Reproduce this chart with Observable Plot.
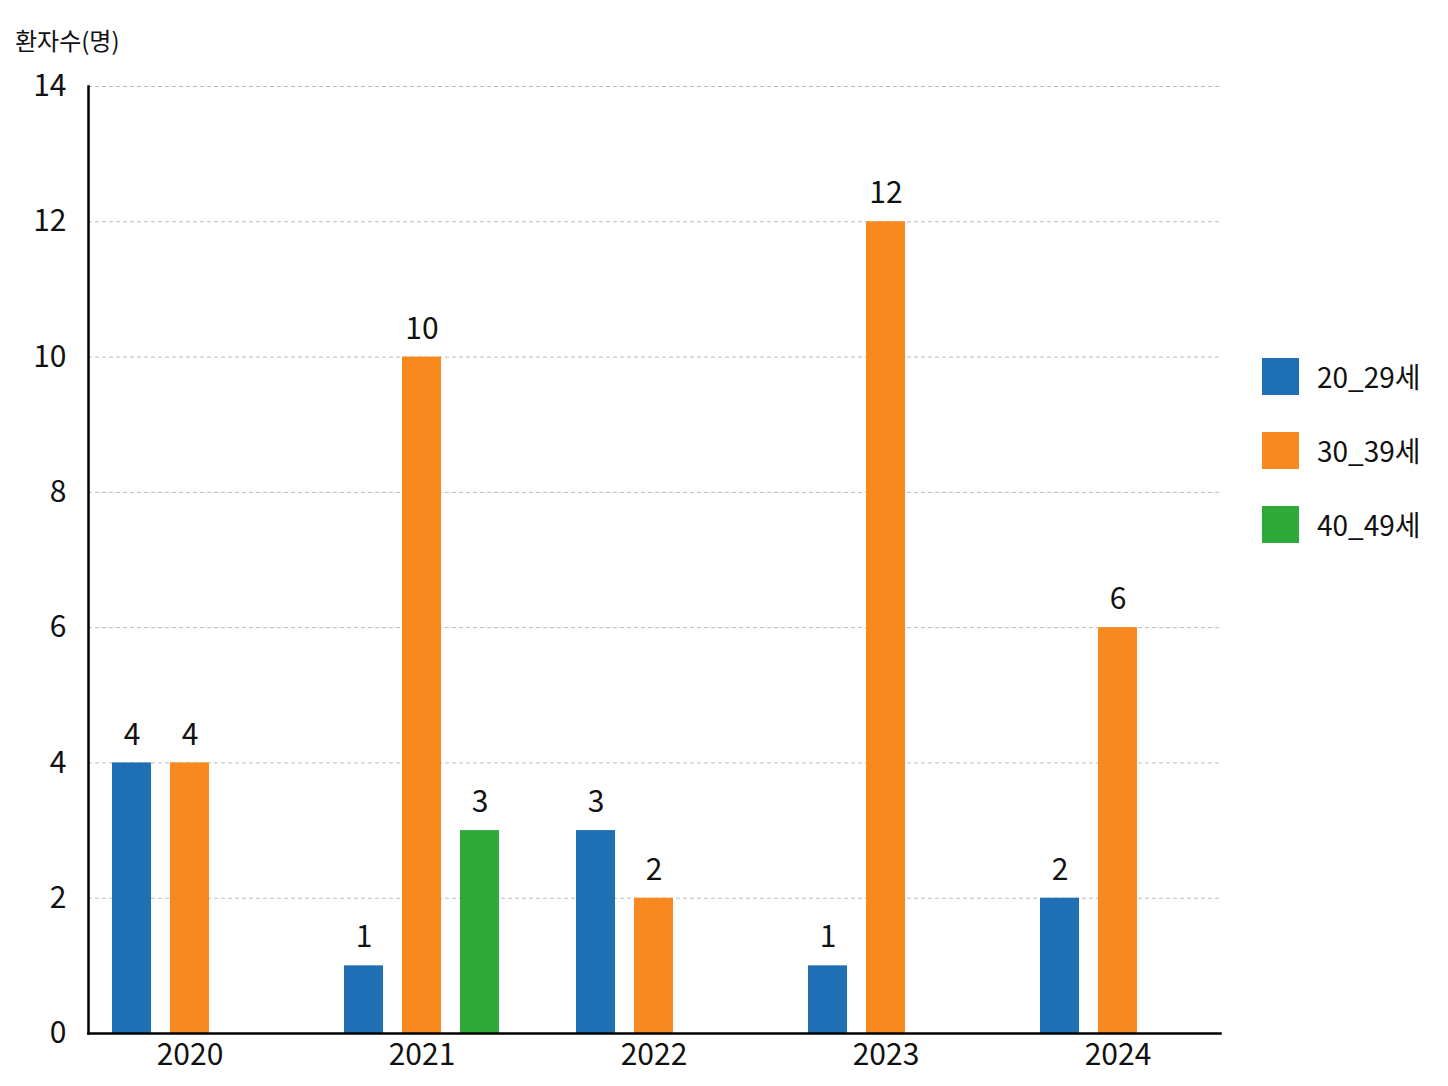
<!DOCTYPE html>
<html><head><meta charset="utf-8">
<script src="https://cdn.jsdelivr.net/npm/d3@7"></script>
<script src="https://cdn.jsdelivr.net/npm/@observablehq/plot@0.6"></script>
<style>
body{margin:0;background:#fff;font-family:"Noto Sans CJK KR","Noto Sans",sans-serif;}
#wrap{position:relative;width:1448px;height:1086px;}
#ylab{position:absolute;left:15px;top:22px;font-size:24px;color:#111;}
#legend{position:absolute;left:1262px;top:357px;font-size:28px;color:#111;}
.li{display:flex;align-items:center;height:38px;margin-bottom:36px;}
.sw{width:37px;height:37px;margin-right:18px;}
</style></head><body>
<div id="wrap"><div id="ylab">환자수(명)</div><div id="legend"></div></div>
<script>
const years = ["2020","2021","2022","2023","2024"];
const groups = ["20_29세","30_39세","40_49세"];
const colors = ["#1f6fb5","#f7891f","#2eaa3a"];
const v2029 = [4,1,3,1,2];
const v3039 = [4,10,2,12,6];
const v4049 = [null,3,null,null,null];
const data = [];
[v2029,v3039,v4049].forEach((arr,gi)=>arr.forEach((v,i)=>{ if(v!=null) data.push({key:years[i]+"|"+groups[gi],group:groups[gi],value:v}); }));
const domain = [];
years.forEach((y,i)=>{ groups.forEach(g=>domain.push(y+"|"+g)); if(i<years.length-1) domain.push("gap"+i); });
const mids = years.map(y=>y+"|"+groups[1]);
const chart = Plot.plot({
  width:1448, height:1086,
  marginTop:86, marginBottom:53, marginLeft:88, marginRight:228,
  style:{fontFamily:'"Noto Sans CJK KR","Noto Sans",sans-serif', fontSize:"28px", color:"#111"},
  x:{domain, padding:0.32, paddingOuter:0.4, label:null},
  y:{domain:[0,14], label:null},
  color:{domain:groups, range:colors},
  marks:[
    Plot.gridY([2,4,6,8,10,12,14],{stroke:"#bbb", strokeOpacity:1, strokeDasharray:"4,3"}),
    Plot.axisY({ticks:[0,2,4,6,8,10,12,14], tickSize:0, tickPadding:22, fontSize:30, label:null}),
    Plot.axisX({ticks:mids, tickFormat:d=>d.split("|")[0], tickSize:0, tickPadding:10, fontSize:30, label:null}),
    Plot.barY(data,{x:"key", y:"value", fill:"group"}),
    Plot.text(data,{x:"key", y:"value", text:"value", dy:-28, fontSize:30, fill:"#111"}),
    Plot.frame({anchor:"bottom", stroke:"#000", strokeWidth:2.5}),
    Plot.frame({anchor:"left", stroke:"#000", strokeWidth:2.5})
  ]
});
document.getElementById("wrap").appendChild(chart);
chart.style.position="absolute"; chart.style.left="0"; chart.style.top="0";
const lg=document.getElementById("legend");
groups.forEach((g,i)=>{lg.innerHTML+=`<div class="li"><div class="sw" style="background:${colors[i]}"></div>${g}</div>`;});
</script></body></html>
